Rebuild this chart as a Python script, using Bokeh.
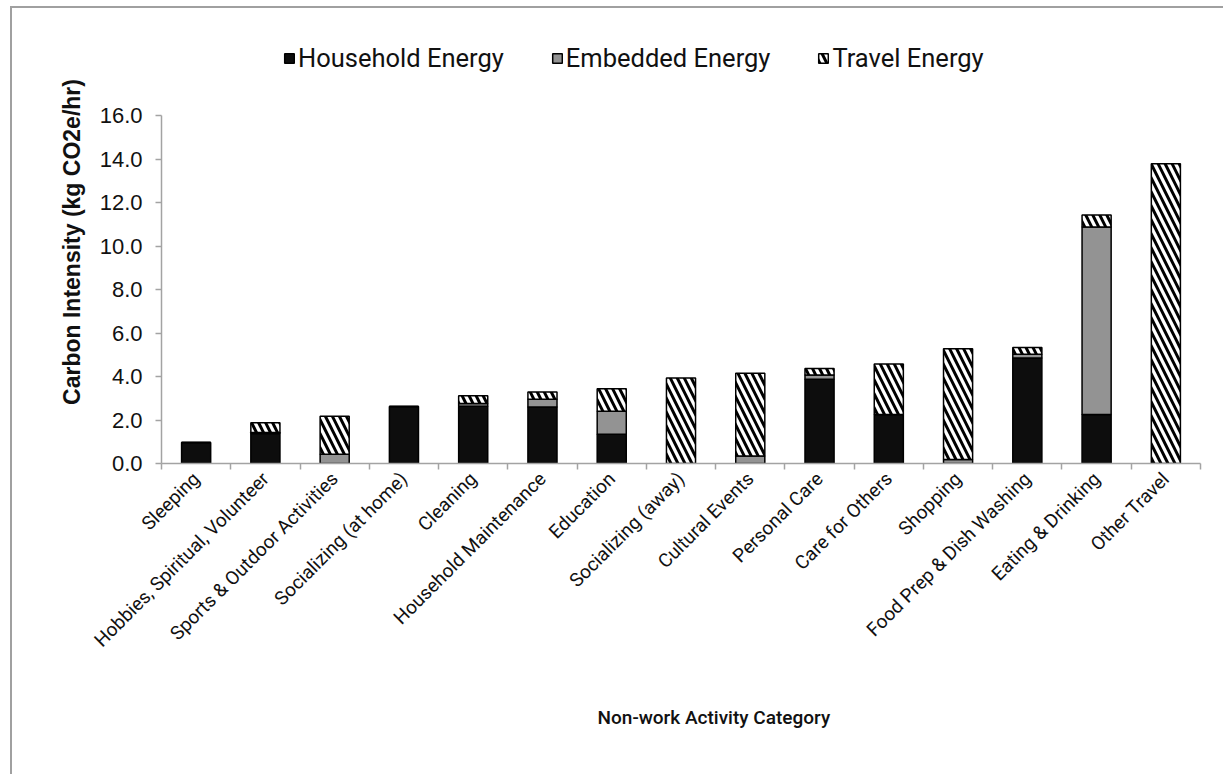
import math

from bokeh.embed import file_html
from bokeh.models import (ColumnDataSource, FixedTicker, Legend, LegendItem,
                          LinearAxis, Range1d, Title)
from bokeh.plotting import figure
from bokeh.resources import INLINE

# Carbon intensity of non-work activities (kg CO2e per hour)
categories = [
    "Sleeping", "Hobbies, Spiritual, Volunteer", "Sports & Outdoor Activities",
    "Socializing (at home)", "Cleaning", "Household Maintenance", "Education",
    "Socializing (away)", "Cultural Events", "Personal Care", "Care for Others",
    "Shopping", "Food Prep & Dish Washing", "Eating & Drinking", "Other Travel",
]
household = [0.97, 1.38, 0.0, 2.62, 2.63, 2.60, 1.35, 0.0, 0.0, 3.87, 2.25, 0.0, 4.85, 2.25, 0.0]
embedded = [0.0, 0.05, 0.43, 0.0, 0.13, 0.35, 1.05, 0.0, 0.35, 0.20, 0.0, 0.18, 0.17, 8.62, 0.0]
travel = [0.0, 0.44, 1.74, 0.0, 0.35, 0.34, 1.04, 3.93, 3.80, 0.30, 2.33, 5.10, 0.31, 0.55, 13.78]
y_ticks = [0, 2, 4, 6, 8, 10, 12, 14, 16]
series_names = ["Household Energy", "Embedded Energy", "Travel Energy"]

# categories sit at the centres of unit-wide slots; tick marks go on slot edges
centers = [i + 0.5 for i in range(len(categories))]
edges = list(range(len(categories) + 1))

source = ColumnDataSource(dict(x=centers, household=household,
                               embedded=embedded, travel=travel))

AXIS_GREY = "#a3a3a3"
TEXT = "#111111"

# The value axis runs 0-16 over 348 px; the frame reaches higher than that so
# the legend can sit inside it above the bars.
PX_PER_UNIT = 348 / 16
FRAME_H = 443
y_top = FRAME_H / PX_PER_UNIT

p = figure(width=1213, height=768, output_backend="svg", toolbar_location=None,
           x_range=Range1d(0, len(categories)), y_range=Range1d(0, y_top),
           x_axis_type=None, y_axis_type=None,
           min_border_left=149, min_border_right=25,
           min_border_top=12, min_border_bottom=313)
p.grid.visible = False
p.outline_line_color = None
p.background_fill_color = "white"
p.border_fill_color = "white"
# chart-area border (left and top edges fall inside the window)
p.styles = {"margin-left": "10px", "margin-top": "6px",
            "border-left": "2px solid #a0a0a0", "border-top": "2px solid #a0a0a0"}

renderers = p.vbar_stack(
    ["household", "embedded", "travel"], x="x", width=0.42, source=source,
    fill_color=["#0d0d0d", "#939393", "white"],
    hatch_pattern=[" ", " ", "left_diagonal_line"],
    hatch_color="black", hatch_scale=14, hatch_weight=3,
    line_color="black", line_width=1.5,
)

# y axis
yaxis = LinearAxis(ticker=FixedTicker(ticks=y_ticks), bounds=(0, 16))
yaxis.major_label_overrides = {t: f"{t:.1f}" for t in y_ticks}
yaxis.axis_label = "Carbon Intensity (kg CO2e/hr)"
yaxis.axis_label_text_font = "Liberation Sans"
yaxis.axis_label_text_font_style = "bold"
yaxis.axis_label_text_font_size = "23px"
yaxis.axis_label_text_color = TEXT
yaxis.axis_label_standoff = 12
yaxis.major_label_text_font = "Liberation Sans"
yaxis.major_label_text_font_size = "22px"
yaxis.major_label_text_color = TEXT
yaxis.major_label_standoff = 13
yaxis.axis_line_color = AXIS_GREY
yaxis.axis_line_width = 1.5
yaxis.major_tick_line_color = AXIS_GREY
yaxis.major_tick_line_width = 1.5
yaxis.major_tick_in = 0
yaxis.major_tick_out = 6
yaxis.minor_tick_line_color = None
p.add_layout(yaxis, "left")

# x axis: labels at slot centres, tick marks on slot edges
xaxis = LinearAxis(ticker=FixedTicker(ticks=centers, minor_ticks=edges))
xaxis.major_label_overrides = {c: name for c, name in zip(centers, categories)}
xaxis.major_label_orientation = math.pi / 4
xaxis.major_label_text_font = "Roboto"
xaxis.major_label_text_font_size = "19px"
xaxis.major_label_text_color = TEXT
xaxis.major_label_standoff = 6
xaxis.major_tick_line_color = None
xaxis.minor_tick_line_color = AXIS_GREY
xaxis.minor_tick_line_width = 1.5
xaxis.minor_tick_in = 0
xaxis.minor_tick_out = 6
xaxis.axis_line_color = AXIS_GREY
xaxis.axis_line_width = 1.5
p.add_layout(xaxis, "below")

p.add_layout(Title(text="Non-work Activity Category", align="left", offset=436,
                   standoff=87, vertical_align="top",
                   text_font="Roboto Medium, Roboto",
                   text_font_style="normal", text_font_size="19px",
                   text_color=TEXT), "below")

legend = Legend(
    items=[LegendItem(label=n, renderers=[r]) for n, r in zip(series_names, renderers)],
    orientation="horizontal", location=(122, 390),
    glyph_width=12, glyph_height=12, label_standoff=3, spacing=47,
    padding=0, margin=0, border_line_color=None, background_fill_alpha=0,
    label_text_font="Roboto", label_text_font_size="25.5px", label_text_color=TEXT,
)
p.add_layout(legend, "center")

open("out.html", "w").write(file_html(p, INLINE))
